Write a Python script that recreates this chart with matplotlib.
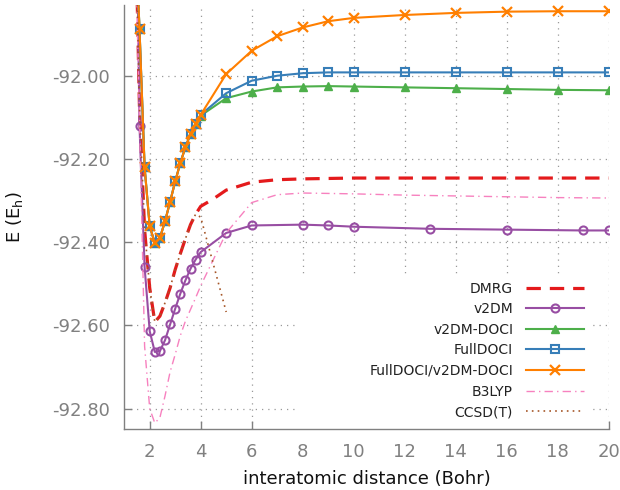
import matplotlib
matplotlib.use("Agg")
import matplotlib.pyplot as plt
from matplotlib.patches import Rectangle

# ---------------- data (Bohr, Hartree) ----------------
x_short = [1.4, 1.6, 1.8, 2.0, 2.2, 2.4, 2.6, 2.8, 3.0, 3.2, 3.4, 3.6, 3.8, 4.0]

dmrg_x = x_short + [4.5, 5, 6, 7, 8, 9, 10, 12, 14, 16, 18, 20]
dmrg_y = [-91.50, -92.08, -92.37, -92.51, -92.592, -92.578, -92.546, -92.510,
          -92.466, -92.428, -92.392, -92.358, -92.333, -92.314,
          -92.296, -92.275, -92.256, -92.250, -92.248, -92.247, -92.246,
          -92.246, -92.246, -92.246, -92.246, -92.246]

v2dm_x = x_short + [5, 6, 8, 9, 10, 13, 16, 19, 20]
v2dm_y = [-91.20, -92.120, -92.460, -92.614, -92.664, -92.662, -92.636, -92.598,
          -92.560, -92.524, -92.492, -92.464, -92.442, -92.424,
          -92.378, -92.360, -92.358, -92.360, -92.363, -92.368, -92.370,
          -92.372, -92.372]

doci_x = x_short + [5, 6, 7, 8, 9, 10, 12, 14, 16, 18, 20]
short_doci = [-91.60, -91.888, -92.220, -92.362, -92.402, -92.390, -92.350, -92.303,
              -92.254, -92.210, -92.172, -92.140, -92.116, -92.094]

v2dm_doci_y = short_doci[:-1] + [-92.096,
               -92.054, -92.038, -92.028, -92.026, -92.025, -92.026, -92.028,
               -92.030, -92.032, -92.034, -92.035]
fulldoci_y = short_doci + [-92.042, -92.012, -92.000, -91.994, -91.992, -91.992,
                           -91.992, -91.992, -91.992, -91.992, -91.992]
full_v2_y = short_doci + [-91.996, -91.940, -91.905, -91.884, -91.869, -91.861,
                          -91.854, -91.849, -91.846, -91.845, -91.845]

b3lyp_x = x_short + [5, 6, 7, 8, 9, 10, 12, 14, 16, 18, 20]
b3lyp_y = [-91.60, -92.10, -92.65, -92.800, -92.835, -92.822, -92.770, -92.712,
           -92.670, -92.625, -92.590, -92.562, -92.534, -92.505,
           -92.378, -92.305, -92.286, -92.282, -92.283, -92.284, -92.287,
           -92.289, -92.291, -92.293, -92.294]

ccsdt_x = x_short + [5]
ccsdt_y = [-91.50, -92.08, -92.37, -92.51, -92.592, -92.578, -92.546, -92.510,
           -92.466, -92.428, -92.392, -92.358, -92.333, -92.340, -92.568]

labels = ["DMRG", "v2DM", "v2DM-DOCI", "FullDOCI", "FullDOCI/v2DM-DOCI",
          "B3LYP", "CCSD(T)"]
xticks = [2, 4, 6, 8, 10, 12, 14, 16, 18, 20]
yticks = [-92.80, -92.60, -92.40, -92.20, -92.00]

# ---------------- figure ----------------
plt.rcParams['font.family'] = ['DejaVu Sans']
fig = plt.figure(figsize=(6.2, 4.9), dpi=100)
ax = fig.add_axes([124.2 / 620, 1 - 429.3 / 490, 484.5 / 620, 424.3 / 490])

gray = '#808080'
ax.plot(dmrg_x, dmrg_y, color='#e41a1c', lw=2.3, ls=(0, (4.5, 2.8)),
        label=labels[0], zorder=3)
ax.plot(v2dm_x, v2dm_y, color='#984ea3', lw=1.5, marker='o', ms=5.8,
        mfc='none', mew=1.5, label=labels[1], zorder=3)
ax.plot(doci_x, v2dm_doci_y, color='#4daf4a', lw=1.5, marker='^', ms=5.5,
        mew=1.0, label=labels[2], zorder=3)
ax.plot(doci_x, fulldoci_y, color='#377eb8', lw=1.5, marker='s', ms=5.8,
        mfc='none', mew=1.5, label=labels[3], zorder=3)
ax.plot(doci_x, full_v2_y, color='#ff7f00', lw=1.5, marker='x', ms=7.2,
        mew=1.6, label=labels[4], zorder=3)
ax.plot(b3lyp_x, b3lyp_y, color='#f781bf', lw=1.0, ls=(0, (6, 3, 1, 3)),
        label=labels[5], zorder=3)
ax.plot(ccsdt_x, ccsdt_y, color='#a65628', lw=1.2, ls=(0, (1, 2.5)),
        label=labels[6], zorder=3)

ax.set_xlim(1, 20)
ax.set_ylim(-92.85, -91.83)
ax.set_xticks(xticks)
ax.set_yticks(yticks)
ax.set_yticklabels(['%.2f' % v for v in yticks])

ax.grid(True, color='#999999', lw=0.9, ls=(0, (1, 4)))
ax.set_axisbelow(True)
for s in ['top', 'right']:
    ax.spines[s].set_visible(False)
for s in ['left', 'bottom']:
    ax.spines[s].set_color(gray)
    ax.spines[s].set_linewidth(1.0)
ax.tick_params(direction='in', length=6, width=1.0, color=gray,
               labelcolor=gray, labelsize=13, pad=10)

ax.set_xlabel('interatomic distance (Bohr)', fontsize=13, color='#111111')
ax.set_ylabel('E (E$_\\mathrm{h}$)', fontsize=13, color='#111111')
ax.xaxis.set_label_coords(0.5, -0.095)
ax.yaxis.set_label_coords(-0.205, 0.5)

# opaque key area
ax.add_patch(Rectangle((0.357, 0.0), 0.61, 0.359, transform=ax.transAxes,
                       facecolor='white', edgecolor='none', zorder=1))

leg = ax.legend(loc='lower right', bbox_to_anchor=(0.9489, 0.024),
                frameon=False, markerfirst=False, fontsize=10,
                handlelength=4.2, handletextpad=0.9, labelspacing=0.475,
                borderpad=0, borderaxespad=0, numpoints=1)
for t in leg.get_texts():
    t.set_color('#222222')

fig.savefig('out.png', dpi=100)
